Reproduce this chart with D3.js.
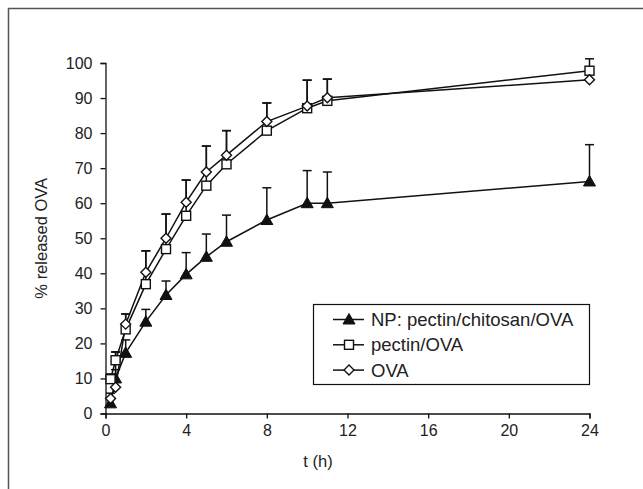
<!DOCTYPE html>
<html>
<head>
<meta charset="utf-8">
<script src="https://cdn.jsdelivr.net/npm/d3@7"></script>
<style>
  html, body { margin: 0; padding: 0; background: #fff; }
  svg { display: block; font-family: "Liberation Sans", Arial, sans-serif; }
</style>
</head>
<body>
<div id="chart"></div>
<script>
// release time points (h)
const times = [0.25, 0.5, 1, 2, 3, 4, 5, 6, 8, 10, 11, 24];

// % released OVA for each formulation, with upper error bars
const npValues = [2.9, 10.0, 17.3, 26.2, 33.8, 39.7, 44.7, 49.0, 55.2, 60.0, 60.0, 66.2];
const npErr = [1.5, 2.5, 3.7, 3.5, 4.0, 6.2, 6.5, 7.6, 9.2, 9.3, 8.9, 10.5];

const pectinValues = [9.8, 15.2, 24.0, 36.9, 46.9, 56.4, 65.0, 71.1, 80.7, 87.1, 89.2, 97.8];
const pectinErr = [1.5, 2.4, 4.4, 9.5, 10.0, 10.2, 11.3, 9.6, 7.9, 8.0, 6.2, 3.4];

const ovaValues = [4.3, 7.5, 25.5, 40.3, 50.0, 60.3, 68.9, 73.7, 83.3, 87.7, 90.1, 95.2];
const ovaErr = [1.5, 10.0, 2.9, 6.1, 6.9, 6.3, 7.4, 7.0, 5.3, 7.4, 5.3, 2.0];

const seriesNames = ["NP: pectin/chitosan/OVA", "pectin/OVA", "OVA"];
const xTicks = [0, 4, 8, 12, 16, 20, 24];
const yTicks = [0, 10, 20, 30, 40, 50, 60, 70, 80, 90, 100];

const width = 643, height = 489;

const svg = d3.select("#chart").append("svg")
    .attr("width", width)
    .attr("height", height);

// outer frame (runs off the right and bottom of the picture)
svg.append("rect")
    .attr("x", 8.5).attr("y", 8.5)
    .attr("width", 700).attr("height", 600)
    .attr("fill", "none")
    .attr("stroke", "#555")
    .attr("stroke-width", 1.5);

const x = d3.scaleLinear().domain([0, 24]).range([105.5, 589.5]);
const y = d3.scaleLinear().domain([0, 100]).range([413.5, 63]);

// axes
const xAxis = svg.append("g")
    .attr("transform", `translate(0,${y(0)})`)
    .call(d3.axisBottom(x).tickValues(xTicks).tickSize(5).tickPadding(6));
const yAxis = svg.append("g")
    .attr("transform", `translate(${x(0)},0)`)
    .call(d3.axisLeft(y).tickValues(yTicks).tickSize(5).tickPadding(8));

[xAxis, yAxis].forEach(a => {
    a.select(".domain").attr("stroke", "#111").attr("stroke-width", 1.3);
    a.selectAll(".tick line").attr("stroke", "#111").attr("stroke-width", 1.3);
    a.selectAll(".tick text")
        .attr("fill", "#222")
        .style("font-size", "16px")
        .style("font-family", "'Liberation Sans', Arial, sans-serif");
});

// axis titles
svg.append("text")
    .attr("x", 318).attr("y", 467)
    .attr("text-anchor", "middle")
    .attr("fill", "#222")
    .style("font-size", "16.5px")
    .text("t (h)");

svg.append("text")
    .attr("transform", `translate(47,${(y(0) + y(100)) / 2}) rotate(-90)`)
    .attr("text-anchor", "middle")
    .attr("fill", "#222")
    .style("font-size", "16.5px")
    .text("% released OVA");

// marker shapes
function triangle(g) {
    g.append("path").attr("d", "M0,-6L6,4.5L-6,4.5Z")
        .attr("fill", "#111").attr("stroke", "#111").attr("stroke-width", 1);
}
function square(g) {
    g.append("rect").attr("x", -4.5).attr("y", -4.5).attr("width", 9).attr("height", 9)
        .attr("fill", "#fff").attr("stroke", "#111").attr("stroke-width", 1.4);
}
function diamond(g) {
    g.append("path").attr("d", "M0,-5L5,0L0,5L-5,0Z")
        .attr("fill", "#fff").attr("stroke", "#111").attr("stroke-width", 1.4);
}

const series = [
    { name: seriesNames[0], values: npValues, err: npErr, marker: triangle },
    { name: seriesNames[1], values: pectinValues, err: pectinErr, marker: square },
    { name: seriesNames[2], values: ovaValues, err: ovaErr, marker: diamond }
];

const line = d3.line()
    .x((d, i) => x(times[i]))
    .y(d => y(d));

// error bars (upper only) and lines
series.forEach(s => {
    const eb = svg.append("g");
    s.values.forEach((v, i) => {
        const cx = x(times[i]);
        const top = y(v + s.err[i]);
        eb.append("line")
            .attr("x1", cx).attr("x2", cx)
            .attr("y1", y(v)).attr("y2", top)
            .attr("stroke", "#111").attr("stroke-width", 1.5);
        eb.append("line")
            .attr("x1", cx - 4.5).attr("x2", cx + 4.5)
            .attr("y1", top).attr("y2", top)
            .attr("stroke", "#111").attr("stroke-width", 1.5);
    });
    svg.append("path")
        .datum(s.values)
        .attr("d", line)
        .attr("fill", "none")
        .attr("stroke", "#111")
        .attr("stroke-width", 1.5);
});

// markers on top
series.forEach(s => {
    s.values.forEach((v, i) => {
        const g = svg.append("g").attr("transform", `translate(${x(times[i])},${y(v)})`);
        s.marker(g);
    });
});

// legend
const legend = svg.append("g");
legend.append("rect")
    .attr("x", 313.5).attr("y", 304.5)
    .attr("width", 276).attr("height", 80)
    .attr("fill", "#fff")
    .attr("stroke", "#111")
    .attr("stroke-width", 1.2);

series.forEach((s, i) => {
    const ry = 319.5 + i * 25.3;
    legend.append("line")
        .attr("x1", 333).attr("x2", 364)
        .attr("y1", ry).attr("y2", ry)
        .attr("stroke", "#111").attr("stroke-width", 1.5);
    s.marker(legend.append("g").attr("transform", `translate(349,${ry})`));
    legend.append("text")
        .attr("x", 371).attr("y", ry)
        .attr("dy", "0.36em")
        .attr("fill", "#222")
        .style("font-size", "18.5px")
        .text(s.name);
});
</script>
</body>
</html>
